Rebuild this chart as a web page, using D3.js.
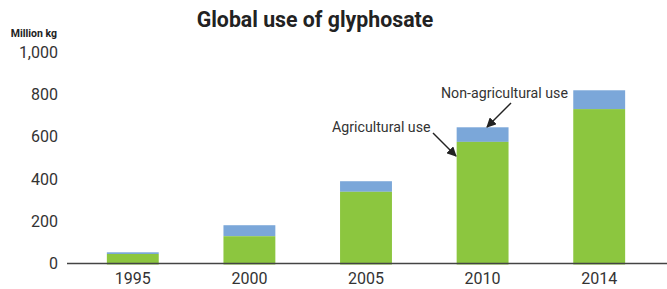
<!DOCTYPE html>
<html><head><meta charset="utf-8">
<script src="https://cdn.jsdelivr.net/npm/d3@7"></script>
<style>body{margin:0;background:#fff;}svg{display:block;font-family:Roboto,sans-serif;}</style>
</head><body>
<svg id="c" width="667" height="289"></svg>
<script>
const years = ["1995","2000","2005","2010","2014"];
const agricultural = [45, 129, 339, 575, 730];
const nonAgricultural = [8, 52, 50, 69, 89];
const yTicks = [0, 200, 400, 600, 800, 1000];

const svg = d3.select("#c");
const x = d3.scaleBand().domain(years).range([74.5, 657.5]).paddingInner(0.555).paddingOuter(0.2775);
const y = d3.scaleLinear().domain([0, 1000]).range([263.5, 52]);

const green = "#8cc63f", blue = "#7ba7d9";

// bars
const g = svg.append("g");
years.forEach((yr, i) => {
  const a = agricultural[i], n = nonAgricultural[i];
  g.append("rect").attr("x", x(yr)).attr("width", x.bandwidth())
    .attr("y", y(a + n)).attr("height", y(a) - y(a + n)).attr("fill", blue);
  g.append("rect").attr("x", x(yr)).attr("width", x.bandwidth())
    .attr("y", y(a)).attr("height", y(0) - y(a) + 1).attr("fill", green);
});

// y axis labels
const yAxis = d3.axisLeft(y).tickValues(yTicks).tickSize(0).tickPadding(0).tickFormat(d3.format(","));
const ya = svg.append("g").attr("transform", "translate(58,0)").call(yAxis);
ya.select(".domain").remove();
ya.selectAll("text").attr("font-size", 16).attr("fill", "#333").attr("font-family", "Roboto");

// x axis
const xAxis = d3.axisBottom(x).tickSize(0).tickPadding(9);
const xa = svg.append("g").attr("transform", `translate(0,${y(0)})`).call(xAxis);
xa.select(".domain").remove();
xa.selectAll("text").attr("font-size", 16).attr("fill", "#333").attr("font-family", "Roboto");
svg.append("line").attr("x1", 67).attr("x2", 667).attr("y1", y(0)).attr("y2", y(0))
  .attr("stroke", "#444").attr("stroke-width", 1.5);

// title & unit
svg.append("text").attr("x", 315).attr("y", 27).attr("text-anchor", "middle")
  .attr("font-size", 21.3).attr("font-weight", "bold").attr("fill", "#222").text("Global use of glyphosate");
svg.append("text").attr("x", 57).attr("y", 37).attr("text-anchor", "end")
  .attr("font-size", 10.5).attr("font-weight", "bold").attr("fill", "#222").text("Million kg");

// annotations
const defs = svg.append("defs");
defs.append("marker").attr("id", "ah").attr("viewBox", "0 0 10 10").attr("refX", 9).attr("refY", 5)
  .attr("markerWidth", 6.5).attr("markerHeight", 6.5).attr("orient", "auto")
  .append("path").attr("d", "M0,0L10,5L0,10z").attr("fill", "#222");

svg.append("text").attr("x", 441).attr("y", 98).attr("font-size", 14.2).attr("fill", "#333").text("Non-agricultural use");
svg.append("text").attr("x", 332).attr("y", 132).attr("font-size", 14.2).attr("fill", "#333").text("Agricultural use");
svg.append("line").attr("x1", 511).attr("y1", 103).attr("x2", 487).attr("y2", 127)
  .attr("stroke", "#222").attr("stroke-width", 1.5).attr("marker-end", "url(#ah)");
svg.append("line").attr("x1", 433).attr("y1", 133).attr("x2", 456).attr("y2", 156)
  .attr("stroke", "#222").attr("stroke-width", 1.5).attr("marker-end", "url(#ah)");
</script>
</body></html>
